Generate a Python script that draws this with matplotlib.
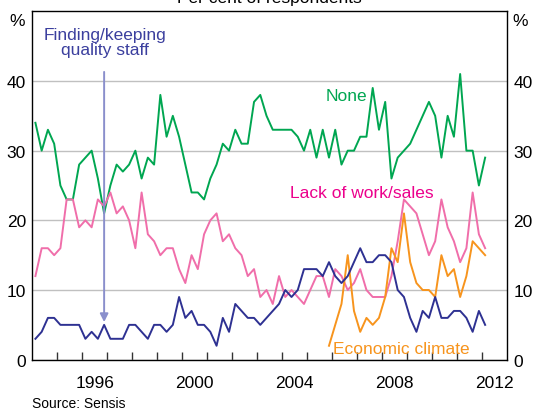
import numpy as np
import matplotlib.pyplot as plt

plt.rcParams['font.family'] = ['Liberation Sans', 'DejaVu Sans']

# 季度调查数据（受访者百分比），1994年一季度起
none = [34, 30, 33, 31, 25, 23, 23, 28, 29, 30, 26, 21, 25, 28, 27, 28, 30, 26, 29, 28,
        38, 32, 35, 32, 28, 24, 24, 23, 26, 28, 31, 30, 33, 31, 31, 37, 38, 35, 33, 33,
        33, 33, 32, 30, 33, 29, 33, 29, 33, 28, 30, 30, 32, 32, 39, 33, 37, 26, 29, 30,
        31, 33, 35, 37, 35, 29, 35, 32, 41, 30, 30, 25, 29]
lack_work = [12, 16, 16, 15, 16, 23, 23, 19, 20, 19, 23, 22, 24, 21, 22, 20, 16, 24, 18, 17,
             15, 16, 16, 13, 11, 15, 13, 18, 20, 21, 17, 18, 16, 15, 12, 13, 9, 10, 8, 12,
             9, 10, 9, 8, 10, 12, 12, 9, 13, 12, 10, 11, 13, 10, 9, 9, 9, 12, 17, 23,
             22, 21, 18, 15, 17, 23, 19, 17, 14, 16, 24, 18, 16]
staff = [3, 4, 6, 6, 5, 5, 5, 5, 3, 4, 3, 5, 3, 3, 3, 5, 5, 4, 3, 5,
         5, 4, 5, 9, 6, 7, 5, 5, 4, 2, 6, 4, 8, 7, 6, 6, 5, 6, 7, 8,
         10, 9, 10, 13, 13, 13, 12, 14, 12, 11, 12, 14, 16, 14, 14, 15, 15, 14, 10, 9,
         6, 4, 7, 6, 9, 6, 6, 7, 7, 6, 4, 7, 5]
# 经济环境从2005年四季度才开始调查
econ_start = 47
econ = [2, 5, 8, 15, 7, 4, 6, 5, 6, 9, 16, 14, 21, 14, 11, 10, 10, 9, 15, 12,
        13, 9, 12, 17, 16, 15]

year_labels = [1996, 2000, 2004, 2008, 2012]

t = 1994.125 + 0.25 * np.arange(len(none))
t_econ = t[econ_start:econ_start + len(econ)]

green = '#00a651'
pink = '#f06eaa'
navy = '#2e3192'
orange = '#f7941d'

fig = plt.figure(figsize=(5.34, 4.10), dpi=100)
ax = fig.add_axes([32.3 / 534, 49.3 / 410, 474.7 / 534, 348.4 / 410])

ax.plot(t, none, color=green, lw=1.4)
ax.plot(t, lack_work, color=pink, lw=1.4)
ax.plot(t_econ, econ, color=orange, lw=1.4)
ax.plot(t, staff, color=navy, lw=1.4)

ax.set_xlim(1994, 2013)
ax.set_ylim(0, 50)

# 横轴：每年一个刻度，年份标在年中
ax.set_xticks(np.arange(1995, 2013), minor=False)
ax.set_xticklabels([])
ax.set_xticks([y + 0.5 for y in year_labels], minor=True)
ax.set_xticklabels([str(y) for y in year_labels], minor=True, fontsize=12.5)
ax.tick_params(axis='x', which='major', direction='in', length=6, width=1, color='#333333')
ax.tick_params(axis='x', which='minor', length=0, pad=11)

ax.set_yticks([0, 10, 20, 30, 40])
ax.tick_params(axis='y', length=0, labelsize=12.5, pad=4.5, labelright=True)
ax.grid(axis='y', color='#c0c0c0', lw=1)
ax.set_axisbelow(True)
for s in ax.spines.values():
    s.set_linewidth(1)
    s.set_color('black')

ax.text(-0.032, 0.975, '%', transform=ax.transAxes, ha='center', va='center', fontsize=12.5)
ax.text(1.027, 0.975, '%', transform=ax.transAxes, ha='center', va='center', fontsize=12.5)

fig.text(0.505, 1 - 3.5 / 410, 'Per cent of respondents', ha='center', va='baseline', fontsize=12.5)
fig.text(32 / 534, 6 / 410, 'Source: Sensis', ha='left', va='center', fontsize=10)

# 系列标注
ax.text(1996.89, 45.6, 'Finding/keeping\nquality staff', color='#3b3f9e', ha='center',
        va='center', fontsize=12.5, linespacing=1.05)
ax.annotate('', xy=(t[11], 5.4), xytext=(t[11], 41.3),
            arrowprops=dict(arrowstyle='-|>', color='#8a8fcc', lw=1.4,
                            mutation_scale=12, shrinkA=0, shrinkB=0))
ax.text(2006.56, 37.95, 'None', color=green, ha='center', va='center', fontsize=12.5)
ax.text(2007.2, 24.0, 'Lack of work/sales', color='#ec008c', ha='center', va='center', fontsize=12.5)
ax.text(2008.76, 1.6, 'Economic climate', color=orange, ha='center', va='center', fontsize=12.5)

fig.savefig('out.png', dpi=100)
